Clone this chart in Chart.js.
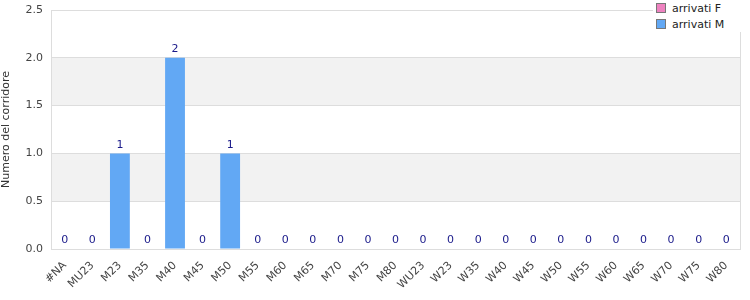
<!DOCTYPE html>
<html>
<head>
<meta charset="utf-8">
<script src="https://cdn.jsdelivr.net/npm/chart.js@4"></script>
<style>
  html, body { margin: 0; padding: 0; background: #fff; }
  #wrap { position: relative; width: 750px; height: 300px; }
  #legend { position: absolute; left: 653px; top: 0; width: 88px; height: 32px; background: #fff;
    font: 11px "DejaVu Sans", sans-serif; color: #222; }
  #legend div { height: 15px; line-height: 15px; white-space: nowrap; padding-left: 3px; margin-top: 1px; }
  #legend span { display: inline-block; width: 8px; height: 8px; border: 1px solid #777; margin-right: 6px; vertical-align: -1px; }
</style>
</head>
<body>
<div id="wrap">
  <canvas id="myChart" width="750" height="300"></canvas>
  <div id="legend">
    <div><span style="background:#ee82c0"></span>arrivati F</div>
    <div><span style="background:#62a8f4"></span>arrivati M</div>
  </div>
</div>
<script>
var categories = ['#NA', 'MU23', 'M23', 'M35', 'M40', 'M45', 'M50', 'M55', 'M60', 'M65', 'M70', 'M75', 'M80',
    'WU23', 'W23', 'W35', 'W40', 'W45', 'W50', 'W55', 'W60', 'W65', 'W70', 'W75', 'W80'];
var arrivatiF = [0, 0, 0, 0, 0, 0, 0, 0, 0, 0, 0, 0, 0, 0, 0, 0, 0, 0, 0, 0, 0, 0, 0, 0, 0];
var arrivatiM = [0, 0, 1, 0, 2, 0, 1, 0, 0, 0, 0, 0, 0, 0, 0, 0, 0, 0, 0, 0, 0, 0, 0, 0, 0];
var yTicks = [0, 0.5, 1, 1.5, 2, 2.5];

// bande grigie alternate
var bands = {
    id: 'bands',
    beforeDraw: function (chart) {
        var ctx = chart.ctx, a = chart.chartArea, y = chart.scales.y;
        ctx.save();
        ctx.fillStyle = '#f2f2f2';
        for (var i = 1; i < yTicks.length - 1; i += 2) {
            var top = y.getPixelForValue(yTicks[i + 1]);
            var bot = y.getPixelForValue(yTicks[i]);
            ctx.fillRect(a.left, top, a.right - a.left, bot - top);
        }
        ctx.restore();
    }
};

// etichette sopra le barre
var labels = {
    id: 'labels',
    afterDatasetsDraw: function (chart) {
        var ctx = chart.ctx;
        var meta = chart.getDatasetMeta(1);
        ctx.save();
        ctx.fillStyle = '#1a1a8a';
        ctx.font = '11px "DejaVu Sans"';
        ctx.textAlign = 'center';
        ctx.textBaseline = 'bottom';
        meta.data.forEach(function (bar, i) {
            ctx.fillText(String(arrivatiM[i] + arrivatiF[i]), bar.x, bar.y - 3);
        });
        ctx.restore();
    }
};

var ctxBar = document.getElementById('myChart').getContext('2d');
var myChart = new Chart(ctxBar, {
    type: 'bar',
    data: {
        labels: categories,
        datasets: [{
            label: 'arrivati F',
            data: arrivatiF,
            backgroundColor: '#ee82c0'
        }, {
            label: 'arrivati M',
            data: arrivatiM,
            backgroundColor: '#62a8f4'
        }]
    },
    options: {
        responsive: false,
        animation: false,
        layout: { padding: { top: 10, right: 10, left: 0, bottom: 0 } },
        datasets: { bar: { categoryPercentage: 1, barPercentage: 0.72 } },
        scales: {
            x: {
                stacked: true,
                grid: { display: false },
                border: { color: '#dddddd' },
                ticks: { color: '#444', font: { family: 'DejaVu Sans', size: 11 }, minRotation: 45, maxRotation: 45, autoSkip: false, padding: 2 },
                afterFit: function (s) { s.height = 51; s.paddingLeft = 0; s.paddingRight = 0; }
            },
            y: {
                stacked: true,
                min: 0,
                max: 2.5,
                grid: { color: '#dddddd', drawTicks: false },
                border: { color: '#dddddd' },
                ticks: {
                    stepSize: 0.5, color: '#444', padding: 8,
                    font: { family: 'DejaVu Sans', size: 11 },
                    callback: function (v) { return v.toFixed(1); }
                },
                title: { display: true, text: 'Numero del corridore', color: '#333', font: { family: 'DejaVu Sans', size: 11 }, padding: 0 },
                afterFit: function (s) { s.width = 51; s.paddingTop = 0; s.paddingBottom = 0; }
            }
        },
        plugins: {
            legend: { display: false },
            tooltip: { enabled: false }
        }
    },
    plugins: [bands, labels, {
        id: 'frame',
        afterDraw: function (chart) {
            var c = chart.ctx, a = chart.chartArea;
            c.save();
            c.strokeStyle = '#dddddd';
            c.lineWidth = 1;
            c.strokeRect(Math.round(a.left) + 0.5, Math.round(a.top) + 0.5, Math.round(a.right - a.left), Math.round(a.bottom - a.top));
            c.restore();
        }
    }]
});
</script>
</body>
</html>
